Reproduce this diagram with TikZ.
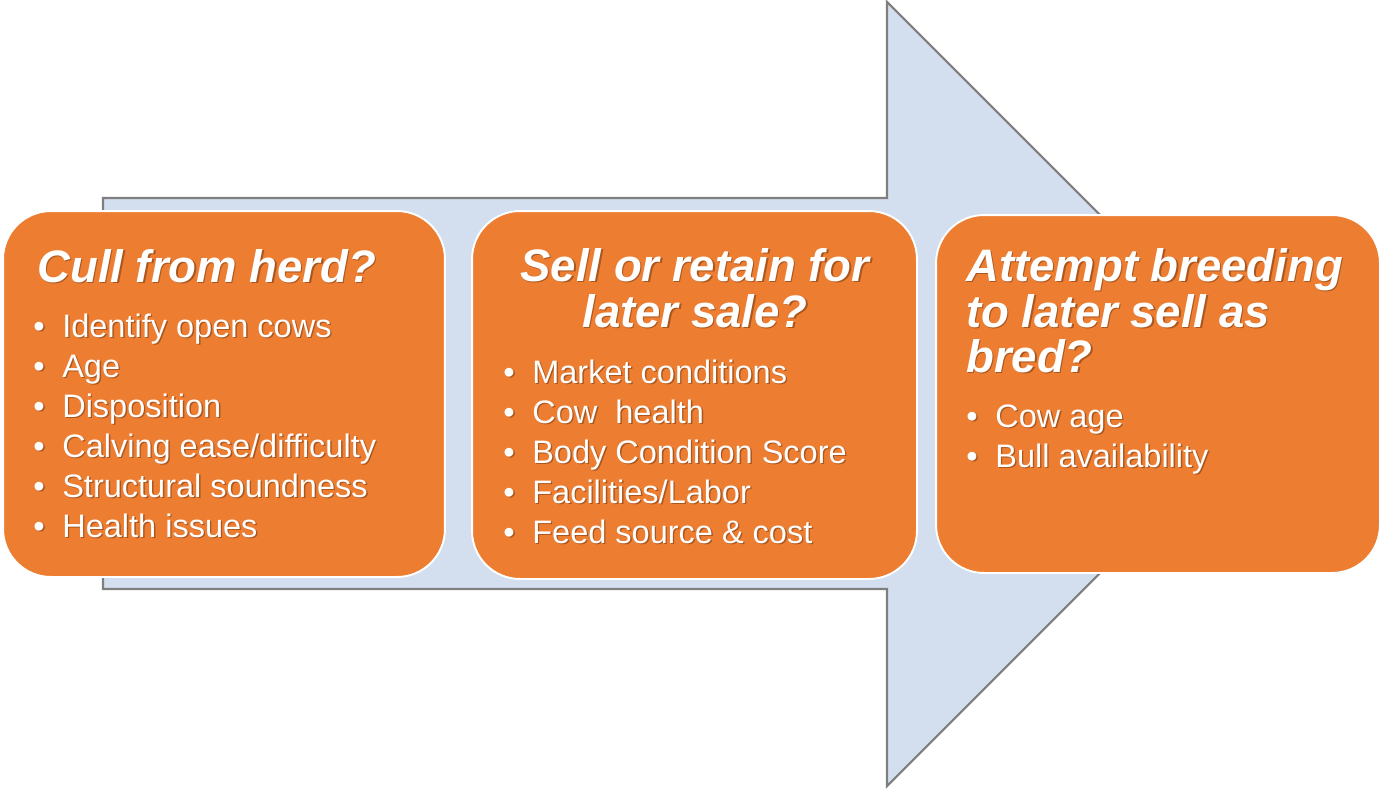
\documentclass[tikz,border=0pt]{standalone}
\usepackage{fontspec}
\setmainfont{Liberation Sans}
\usepackage{tikz}

\definecolor{boxorange}{HTML}{ED7D31}
\definecolor{arrowblue}{HTML}{D3DEEF}
\definecolor{arrowline}{HTML}{7F7F7F}
\definecolor{shadowc}{HTML}{A9571F}

\newcommand{\shd}[1]{\rlap{\kern0.8pt\raisebox{-0.8pt}{\color{shadowc}#1}}#1}
\newcommand{\itm}[1]{\shd{\makebox[16.5pt][l]{\textbullet}#1}}

\tikzset{
  card/.style={draw=white, line width=1.1pt, fill=boxorange, rounded corners=0.96cm, inner sep=0pt},
  head/.style={text=white, font=\fontsize{25.9}{30}\selectfont\bfseries\itshape, inner sep=0pt},
  item/.style={text=white, font=\fontsize{18.5}{22}\selectfont, inner sep=0pt, anchor=base west},
}

\begin{document}
\begin{tikzpicture}[x=0.02cm, y=-0.02cm]
        \useasboundingbox (0, 0) rectangle (1382, 788);
        % big arrow behind
        \draw[arrowline, fill=arrowblue, line width=1.2pt] (103, 198) -- (887, 198) -- (887, 2) -- (1279, 394) -- (887, 786) -- (887, 589) -- (103, 589) -- cycle;
        % the three cards
        \node[card, minimum width=8.84cm, minimum height=7.32cm] (cull) at (224, 394) {};
        \node[card, minimum width=8.9cm, minimum height=7.36cm] (sell) at (694.5, 395) {};
        \node[card, minimum width=8.88cm, minimum height=7.16cm] (breed) at (1158, 394) {};
        % cull
        \node[head, anchor=base west] (cullT) at (37, 282) {\shd{Cull from herd?}};
        \node[item] (cull1) at (33, 337) {\itm{Identify open cows}};
        \node[item] (cull2) at (33, 377) {\itm{Age}};
        \node[item] (cull3) at (33, 417) {\itm{Disposition}};
        \node[item] (cull4) at (33, 457) {\itm{Calving ease/difficulty}};
        \node[item] (cull5) at (33, 497) {\itm{Structural soundness}};
        \node[item] (cull6) at (33, 537) {\itm{Health issues}};
        % sell
        \node[head, anchor=base] (sellT1) at (695, 281) {\shd{Sell or retain for}};
        \node[head, anchor=base] (sellT2) at (695, 327) {\shd{later sale?}};
        \node[item] (sell1) at (503, 383) {\itm{Market conditions}};
        \node[item] (sell2) at (503, 423) {\itm{Cow~~health}};
        \node[item] (sell3) at (503, 463) {\itm{Body Condition Score}};
        \node[item] (sell4) at (503, 503) {\itm{Facilities/Labor}};
        \node[item] (sell5) at (503, 543) {\itm{Feed source \& cost}};
        % breed
        \node[head, anchor=base west] (breedT1) at (966, 281) {\shd{Attempt breeding}};
        \node[head, anchor=base west] (breedT2) at (966, 327) {\shd{to later sell as}};
        \node[head, anchor=base west] (breedT3) at (966, 372) {\shd{bred?}};
        \node[item] (breed1) at (966, 427) {\itm{Cow age}};
        \node[item] (breed2) at (966, 467) {\itm{Bull availability}};
    \end{tikzpicture}
\end{document}
